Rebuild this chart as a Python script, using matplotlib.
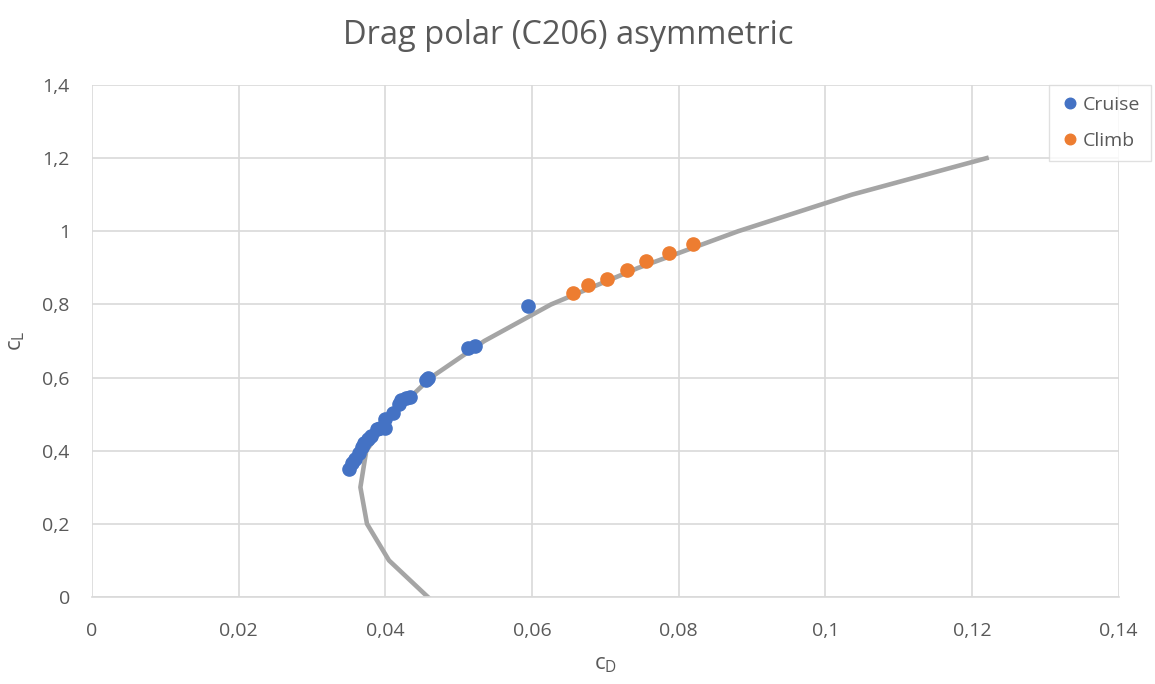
import matplotlib.pyplot as plt
from matplotlib.ticker import FuncFormatter

# drag polar curve (grey line)
polar_cl = [0.0, 0.1, 0.2, 0.3, 0.4, 0.5, 0.6, 0.7, 0.8, 0.9, 1.0, 1.1, 1.2]
polar_cd = [0.0458, 0.0405, 0.0375, 0.0366, 0.0374, 0.0410, 0.0462, 0.0535, 0.0626,
            0.0745, 0.0881, 0.1036, 0.1220]

# cruise points
cruise_cd = [0.0351, 0.0354, 0.0358, 0.0364, 0.0368, 0.0371, 0.0376, 0.0380, 0.0388,
             0.0393, 0.0399, 0.0400, 0.0411, 0.0418, 0.0422, 0.0428, 0.0433, 0.0456,
             0.0458, 0.0513, 0.0522, 0.0595]
cruise_cl = [0.350, 0.366, 0.378, 0.395, 0.410, 0.420, 0.432, 0.440, 0.460,
             0.462, 0.462, 0.488, 0.503, 0.528, 0.538, 0.545, 0.548, 0.593,
             0.598, 0.680, 0.686, 0.797]

# climb points
climb_cd = [0.0656, 0.0677, 0.0703, 0.0730, 0.0755, 0.0787, 0.0820]
climb_cl = [0.830, 0.853, 0.870, 0.893, 0.918, 0.940, 0.964]

x_ticks = [0, 0.02, 0.04, 0.06, 0.08, 0.1, 0.12, 0.14]
y_ticks = [0, 0.2, 0.4, 0.6, 0.8, 1.0, 1.2, 1.4]

plt.rcParams["font.family"] = ["Open Sans", "DejaVu Sans"]

text_color = "#595959"
grid_color = "#d9d9d9"

fig = plt.figure(figsize=(11.55, 6.84), dpi=100)
ax = fig.add_axes([0.0797, 0.1272, 0.8887, 0.7485])

ax.plot(polar_cd, polar_cl, color="#a5a5a5", linewidth=3.3, zorder=2)
ax.plot(cruise_cd, cruise_cl, "o", color="#4472c4", markersize=9.5,
        label="Cruise", zorder=3)
ax.plot(climb_cd, climb_cl, "o", color="#ed7d31", markersize=9.5,
        label="Climb", zorder=3)

ax.set_xlim(0, 0.14)
ax.set_ylim(0, 1.4)
ax.set_xticks(x_ticks)
ax.set_yticks(y_ticks)


def comma_fmt(v, pos):
    s = f"{v:.2f}".rstrip("0").rstrip(".")
    return s.replace(".", ",")


ax.xaxis.set_major_formatter(FuncFormatter(comma_fmt))
ax.yaxis.set_major_formatter(FuncFormatter(comma_fmt))

ax.grid(True, color=grid_color, linewidth=1.2, zorder=0)
ax.set_axisbelow(True)
for side in ["top", "right", "left"]:
    ax.spines[side].set_visible(False)
ax.spines["bottom"].set_color(grid_color)
ax.spines["bottom"].set_linewidth(1.2)
ax.tick_params(length=0, labelsize=14, labelcolor=text_color)
ax.tick_params(axis="x", pad=18)
ax.tick_params(axis="y", pad=16)

ax.set_xlabel("c$_\\mathregular{D}$", fontsize=16, color=text_color, labelpad=10)
ax.set_ylabel("c$_\\mathregular{L}$", fontsize=16, color=text_color, labelpad=11)

fig.suptitle("Drag polar (C206) asymmetric", fontsize=23.5, color=text_color,
             x=0.492, y=0.972)

leg = fig.legend(loc="upper left", bbox_to_anchor=(0.908, 0.876), fontsize=14,
                 frameon=True, fancybox=False, handletextpad=0.1,
                 labelspacing=0.95, borderpad=0.55, handlelength=1.1,
                 markerscale=0.8, borderaxespad=0)
leg.get_frame().set_edgecolor(grid_color)
for t in leg.get_texts():
    t.set_color(text_color)

fig.savefig("out.png", dpi=100)
